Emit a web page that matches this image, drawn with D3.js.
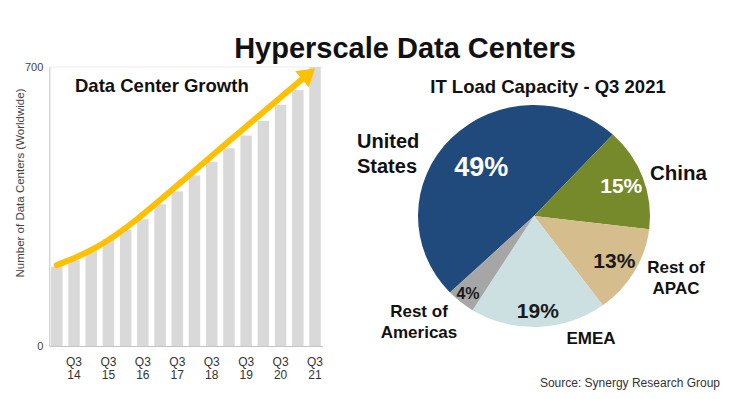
<!DOCTYPE html>
<html>
<head>
<meta charset="utf-8">
<script src="https://cdn.jsdelivr.net/npm/d3@7"></script>
<style>
  body { margin: 0; background: #fff; }
  svg { display: block; font-family: "Liberation Sans", Arial, sans-serif; }
</style>
</head>
<body>
<div id="chart"></div>
<script>
// data ***********
var periods = ["Q1 14", "Q3 14", "Q1 15", "Q3 15", "Q1 16", "Q3 16", "Q1 17", "Q3 17",
               "Q1 18", "Q3 18", "Q1 19", "Q3 19", "Q1 20", "Q3 20", "Q1 21", "Q3 21"];
var dataCenters = [199, 215, 240, 268, 292, 318, 356, 388, 428, 462, 496, 528, 565, 605, 642, 700];
var yTicks = [0, 700];

// trend arrow, in (bar index, value) units
var arrowIdx = [0, 2.2, 4.6, 7.55, 11.42, 15];
var arrowVal = [203, 240, 313, 424, 566, 697];

var regions = ["United States", "China", "Rest of APAC", "EMEA", "Rest of Americas"];
var shares = [49, 15, 13, 19, 4];
var sliceColors = ["#204a7b", "#76892b", "#d5bd8e", "#cce0e2", "#a6a6a6"];

var svgWidth = 734;
var svgHeight = 399;

var svg = d3.select("#chart")
  .append("svg")
  .attr("width", svgWidth)
  .attr("height", svgHeight);

// title
svg.append("text")
  .attr("x", 405)
  .attr("y", 58)
  .attr("text-anchor", "middle")
  .style("font-size", "29px")
  .style("font-weight", "bold")
  .attr("fill", "#111")
  .text("Hyperscale Data Centers");

// ---------- left: bar chart ----------
var x = d3.scaleBand()
  .domain(periods)
  .range([49.3, 322.5])
  .paddingInner(0.33)
  .paddingOuter(0.1);

var y = d3.scaleLinear()
  .domain([0, 700])
  .range([346, 67]);

var xIdx = d3.scaleLinear()
  .domain([0, periods.length - 1])
  .range([x(periods[0]) + x.bandwidth() / 2, x(periods[periods.length - 1]) + x.bandwidth() / 2]);

// faint top border
svg.append("line")
  .attr("x1", 49.3).attr("x2", 322.5)
  .attr("y1", y(700)).attr("y2", y(700))
  .attr("stroke", "#ededed");

svg.selectAll(".bar")
  .data(dataCenters)
  .enter()
  .append("rect")
  .attr("class", "bar")
  .attr("x", (d, i) => x(periods[i]))
  .attr("y", d => y(d))
  .attr("width", x.bandwidth())
  .attr("height", d => y(0) - y(d))
  .attr("fill", "#d9d9d9");

var leftAxis = svg.append("g")
  .attr("transform", "translate(49.3,0)")
  .call(d3.axisLeft(y).tickValues(yTicks).tickSize(0).tickPadding(6));
leftAxis.select(".domain").attr("stroke", "#c4c4c4");
leftAxis.selectAll("text").style("font-size", "11px").attr("fill", "#444").attr("dy", "0.35em");

var bottomAxis = svg.append("g")
  .attr("transform", "translate(0,346)")
  .call(d3.axisBottom(x).tickValues(periods.filter(p => p.startsWith("Q3"))).tickSize(0).tickSizeOuter(0));
bottomAxis.select(".domain").attr("stroke", "#c4c4c4");
bottomAxis.selectAll("text").each(function(d) {
  var t = d3.select(this).text("").attr("dy", null).attr("y", null)
    .style("font-size", "12px").attr("fill", "#333");
  var parts = d.split(" ");
  t.append("tspan").attr("x", 0).attr("y", 20).text(parts[0]);
  t.append("tspan").attr("x", 0).attr("y", 33).text(parts[1]);
});

svg.append("text")
  .attr("transform", "translate(24,183) rotate(-90)")
  .attr("text-anchor", "middle")
  .style("font-size", "11.5px")
  .attr("fill", "#444")
  .text("Number of Data Centers (Worldwide)");

svg.append("text")
  .attr("x", 75)
  .attr("y", 92)
  .style("font-size", "18.5px")
  .style("font-weight", "bold")
  .attr("fill", "#111")
  .text("Data Center Growth");

// arrow
var pts = arrowIdx.map((v, i) => [xIdx(v), y(arrowVal[i])]);
var tip = pts[pts.length - 1];
var prev = pts[pts.length - 2];
var len = Math.hypot(tip[0] - prev[0], tip[1] - prev[1]);
var dir = [(tip[0] - prev[0]) / len, (tip[1] - prev[1]) / len];
var headLen = 17, headHalf = 10.5;
var base = [tip[0] - dir[0] * headLen, tip[1] - dir[1] * headLen];
var linePts = pts.slice(0, -1).concat([[base[0] + dir[0] * 2, base[1] + dir[1] * 2]]);

svg.append("path")
  .attr("d", d3.line().curve(d3.curveBasis)(linePts))
  .attr("fill", "none")
  .attr("stroke", "#ffc000")
  .attr("stroke-width", 6)
  .attr("stroke-linecap", "round");

svg.append("path")
  .attr("d", d3.line()([
    tip,
    [base[0] - dir[1] * headHalf, base[1] + dir[0] * headHalf],
    [base[0] + dir[1] * headHalf, base[1] - dir[0] * headHalf]
  ]) + "Z")
  .attr("fill", "#ffc000");

// ---------- right: pie chart ----------
svg.append("text")
  .attr("x", 548)
  .attr("y", 93)
  .attr("text-anchor", "middle")
  .style("font-size", "18.5px")
  .style("font-weight", "bold")
  .attr("fill", "#111")
  .text("IT Load Capacity - Q3 2021");

var cx = 534, cy = 216, radius = 111, stretch = 1.045;
var start = -133.6 * Math.PI / 180;

var pie = d3.pie().sort(null).startAngle(start).endAngle(start + 2 * Math.PI);
var arcs = pie(shares);
var arc = d3.arc().innerRadius(0).outerRadius(radius);

var pieG = svg.append("g")
  .attr("transform", `translate(${cx},${cy}) scale(${stretch},1)`);

pieG.selectAll("path")
  .data(arcs)
  .enter()
  .append("path")
  .attr("d", arc)
  .attr("fill", (d, i) => sliceColors[i]);

// percent labels on the slices
var labelArc = function(d, i) {
  var r = i === 0 ? 71 : (i === 4 ? 100 : (i === 3 ? 95 : 89));
  var a = (d.startAngle + d.endAngle) / 2;
  return [cx + Math.sin(a) * r * stretch, cy - Math.cos(a) * r];
};
var pctSize = ["27px", "21px", "21px", "21px", "16px"];
var pctFill = ["#fff", "#fff", "#1a1a1a", "#1a1a1a", "#1a1a1a"];

svg.selectAll(".pct")
  .data(arcs)
  .enter()
  .append("text")
  .attr("class", "pct")
  .attr("x", (d, i) => labelArc(d, i)[0])
  .attr("y", (d, i) => labelArc(d, i)[1])
  .attr("dy", "0.36em")
  .attr("text-anchor", "middle")
  .style("font-size", (d, i) => pctSize[i])
  .style("font-weight", "bold")
  .attr("fill", (d, i) => pctFill[i])
  .text(d => d.data + "%");

// region names around the pie
function regionLabel(lines, xPos, yPos, size, anchor, lineH) {
  var t = svg.append("text")
    .attr("text-anchor", anchor)
    .style("font-size", size)
    .style("font-weight", "bold")
    .attr("fill", "#111");
  lines.forEach((l, i) => {
    t.append("tspan").attr("x", xPos).attr("y", yPos + i * lineH).text(l);
  });
}
regionLabel(["United", "States"], 357, 148, "20px", "start", 25);
regionLabel([regions[1]], 650, 180, "20.5px", "start", 0);
regionLabel(["Rest of", "APAC"], 676, 273, "17px", "middle", 21);
regionLabel([regions[3]], 591, 344, "17px", "middle", 0);
regionLabel(["Rest of", "Americas"], 419, 317, "17px", "middle", 21);

svg.append("text")
  .attr("x", 720)
  .attr("y", 387)
  .attr("text-anchor", "end")
  .style("font-size", "12px")
  .attr("fill", "#333")
  .text("Source: Synergy Research Group");
</script>
</body>
</html>
